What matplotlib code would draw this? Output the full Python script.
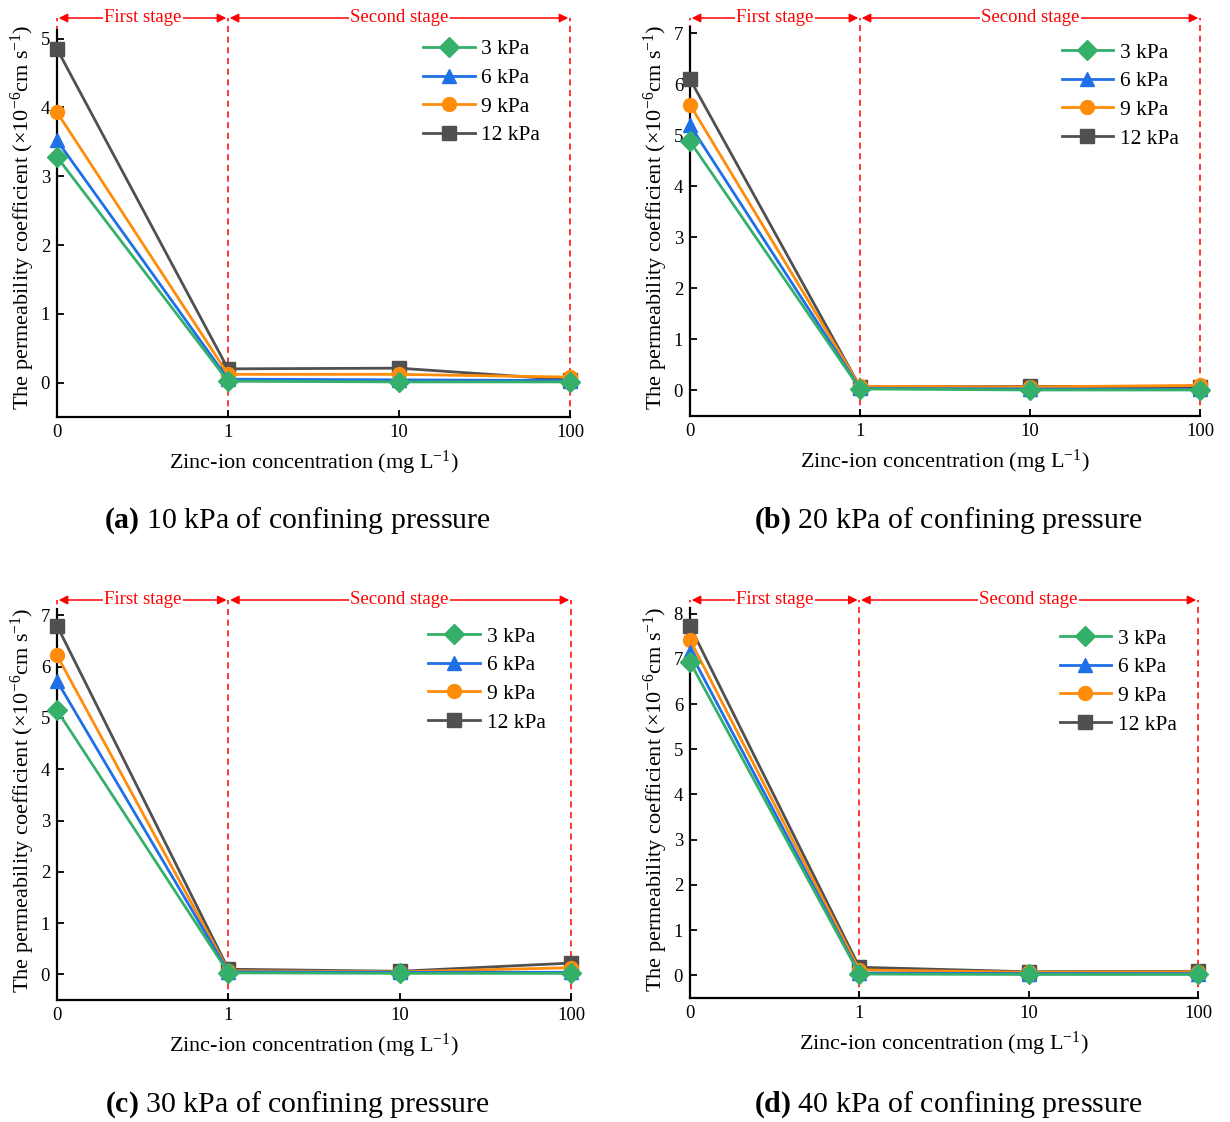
import numpy as np
import matplotlib
matplotlib.use("Agg")
from matplotlib import pyplot as plt

plt.rcParams['font.family'] = ['Liberation Serif', 'DejaVu Serif']
plt.rcParams['mathtext.fontset'] = 'custom'
plt.rcParams['mathtext.rm'] = 'Liberation Serif'
plt.rcParams['mathtext.it'] = 'Liberation Serif:italic'
plt.rcParams['mathtext.bf'] = 'Liberation Serif:bold'

# x categories (zinc-ion concentration, mg/L)
conc_labels = ['0', '1', '10', '100']
pressures = ['3 kPa', '6 kPa', '9 kPa', '12 kPa']

# permeability coefficient (x1e-6 cm/s), one list per pressure, per panel
k_10kpa = {
    '3 kPa': [3.28, 0.02, 0.01, 0.01],
    '6 kPa': [3.52, 0.05, 0.04, 0.03],
    '9 kPa': [3.93, 0.12, 0.12, 0.08],
    '12 kPa': [4.85, 0.20, 0.21, 0.04],
}
k_20kpa = {
    '3 kPa': [4.88, 0.03, 0.01, 0.01],
    '6 kPa': [5.20, 0.04, 0.03, 0.02],
    '9 kPa': [5.60, 0.08, 0.07, 0.10],
    '12 kPa': [6.10, 0.07, 0.08, 0.07],
}
k_30kpa = {
    '3 kPa': [5.15, 0.03, 0.02, 0.02],
    '6 kPa': [5.72, 0.05, 0.04, 0.04],
    '9 kPa': [6.22, 0.07, 0.05, 0.13],
    '12 kPa': [6.80, 0.10, 0.06, 0.22],
}
k_40kpa = {
    '3 kPa': [6.93, 0.03, 0.02, 0.02],
    '6 kPa': [7.15, 0.05, 0.04, 0.04],
    '9 kPa': [7.42, 0.12, 0.07, 0.08],
    '12 kPa': [7.72, 0.18, 0.08, 0.09],
}

colors = {'3 kPa': '#35b06b', '6 kPa': '#1f6fe6', '9 kPa': '#ff8c0a', '12 kPa': '#505050'}
markers = {'3 kPa': 'D', '6 kPa': '^', '9 kPa': 'o', '12 kPa': 's'}

W, H = 1230, 1122
fig = plt.figure(figsize=(W / 100, H / 100), dpi=100)


def px_axes(left, right, bottom, top):
    return fig.add_axes([left / W, 1 - bottom / H, (right - left) / W, (bottom - top) / H])


def draw_panel(ax, data, ymax, yticks, letter, caption, cap_xy, leg_anchor):
    x = np.arange(len(conc_labels))
    top = ymax + 0.3
    ax.set_ylim(-0.5, top)
    ax.set_xlim(0, 3)
    # draw 12 kPa first so the green series ends up on top
    for p in pressures[::-1]:
        ms = 10 if markers[p] != '^' else 10.5
        ax.plot(x, data[p], color=colors[p], marker=markers[p], markersize=ms,
                linewidth=2.0, label=p, clip_on=False, zorder=3)
    # stage separators
    for xv in [0, 1, 3]:
        ax.plot([xv, xv], [-0.5, top], color='red', linestyle=(0, (4, 3)),
                linewidth=1.1, clip_on=False, zorder=1)
    ytxt = top
    for x0, x1, txt in [(0, 1, 'First stage'), (1, 3, 'Second stage')]:
        ax.annotate('', xy=(x0 + 0.01, ytxt), xytext=(x1 - 0.01, ytxt),
                    arrowprops=dict(arrowstyle='<|-|>', color='red', lw=1.1,
                                    shrinkA=0, shrinkB=0, mutation_scale=13),
                    annotation_clip=False)
        ax.text((x0 + x1) / 2, ytxt, txt, color='red', fontsize=13.5,
                ha='center', va='center',
                bbox=dict(facecolor='white', edgecolor='none', pad=1))
    ax.spines['top'].set_visible(False)
    ax.spines['right'].set_visible(False)
    ax.spines['left'].set_bounds(-0.5, ymax + 0.12)
    ax.spines['left'].set_linewidth(1.6)
    ax.spines['bottom'].set_linewidth(1.6)
    ax.set_xticks(x)
    ax.set_xticklabels(conc_labels)
    ax.set_yticks(yticks)
    ax.tick_params(direction='in', labelsize=13.5, length=5, width=1.3, pad=5)
    ax.set_xlabel(r'Zinc-ion concentration (mg L$^{-1}$)', fontsize=16, labelpad=6)
    ax.set_ylabel(r'The permeability coefficient ($\times$10$^{-6}$cm s$^{-1}$)',
                  fontsize=16, labelpad=3)
    handles, labels = ax.get_legend_handles_labels()
    ax.legend(handles[::-1], labels[::-1], loc='upper right', frameon=False,
              fontsize=15.5, handlelength=2.4, handletextpad=0.3, labelspacing=0.4,
              bbox_to_anchor=leg_anchor)
    fig.text(cap_xy[0] / W, 1 - cap_xy[1] / H, r'$\mathbf{(%s)}$ %s' % (letter, caption),
             ha='center', va='center', fontsize=21.5)


ax_a = px_axes(57, 570, 417, 18)
draw_panel(ax_a, k_10kpa, 5, range(0, 6), 'a', '10 kPa of confining pressure',
           (297, 521), (0.98, 0.995))
ax_b = px_axes(690, 1200, 416, 18)
draw_panel(ax_b, k_20kpa, 7, range(0, 8), 'b', '20 kPa of confining pressure',
           (948, 521), (0.996, 0.987))
ax_c = px_axes(57, 571, 1000, 600)
draw_panel(ax_c, k_30kpa, 7, range(0, 8), 'c', '30 kPa of confining pressure',
           (297, 1105), (0.988, 0.982))
ax_d = px_axes(690, 1198, 998, 600)
draw_panel(ax_d, k_40kpa, 8, range(0, 9), 'd', '40 kPa of confining pressure',
           (948, 1105), (0.996, 0.977))

fig.savefig('out.png', dpi=100)
